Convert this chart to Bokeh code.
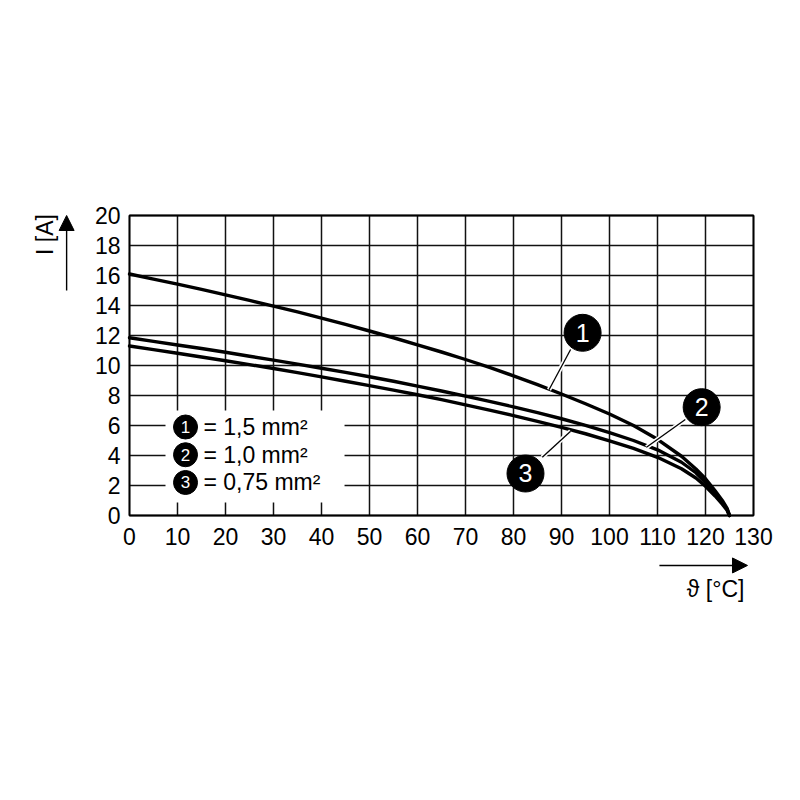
import math
from bokeh.plotting import figure
from bokeh.models import Arrow, NormalHead, ColumnDataSource
from bokeh.core.properties import value
from bokeh.embed import file_html
from bokeh.resources import INLINE

# ---- data ----
temp = [0, 5, 10, 15, 20, 25, 30, 35, 40, 45, 50, 55, 60, 65, 70, 75, 80, 85, 90, 95,
        100, 105, 110, 115, 118, 120, 122, 123.5, 124.5, 125]
i_15 = [16.1, 15.76, 15.42, 15.07, 14.71, 14.34, 13.96, 13.57, 13.16, 12.74, 12.3, 11.85,
        11.38, 10.9, 10.4, 9.87, 9.31, 8.72, 8.1, 7.45, 6.77, 6.0, 5.08, 3.95, 3.1, 2.45,
        1.65, 1.0, 0.48, 0.0]
i_10 = [11.85, 11.61, 11.37, 11.13, 10.88, 10.62, 10.36, 10.09, 9.82, 9.54, 9.25, 8.95,
        8.63, 8.3, 7.96, 7.61, 7.24, 6.86, 6.45, 6.01, 5.53, 5.0, 4.38, 3.55, 2.85, 2.2,
        1.45, 0.85, 0.4, 0.0]
i_075 = [11.3, 11.06, 10.82, 10.57, 10.32, 10.06, 9.8, 9.52, 9.24, 8.95, 8.66, 8.36,
         8.05, 7.72, 7.38, 7.03, 6.66, 6.28, 5.88, 5.45, 4.98, 4.47, 3.88, 3.12, 2.5, 1.95,
         1.3, 0.75, 0.35, 0.0]

x_ticks = list(range(0, 131, 10))
y_ticks = list(range(0, 21, 2))
x_min, x_max = 0, 130
y_min, y_max = 0, 20

legend_nums = ["1", "2", "3"]
legend_texts = ["= 1,5 mm²", "= 1,0 mm²", "= 0,75 mm²"]
legend_y = [5.9, 4.05, 2.2]

# callout bubbles: number, bubble centre, leader line start (on curve) and end
callout_nums = ["1", "2", "3"]
callout_x = [94.4, 119.2, 82.5]
callout_y = [12.18, 7.22, 2.8]
leader_x0 = [87.4, 107.7, 91.9]
leader_y0 = [8.38, 4.55, 5.62]
leader_x1 = [91.9, 115.8, 86.0]
leader_y1 = [11.07, 6.4, 3.89]

FONT = "Liberation Sans"

# the frame covers the whole page; 4.8 px per °C, 15 px per A
p = figure(width=800, height=800, x_range=(-26.875, 139.7917), y_range=(-19.0, 34.3333),
           output_backend="svg", toolbar_location=None,
           x_axis_location=None, y_axis_location=None,
           min_border=0, min_border_left=0, min_border_right=0,
           min_border_top=0, min_border_bottom=0)
p.background_fill_color = "white"
p.border_fill_color = "white"
p.outline_line_color = None
p.xgrid.visible = False
p.ygrid.visible = False

# grid
p.segment(x0=x_ticks, y0=[y_min] * len(x_ticks), x1=x_ticks, y1=[y_max] * len(x_ticks),
          line_color="#111111", line_width=1.5)
p.segment(x0=[x_min] * len(y_ticks), y0=y_ticks, x1=[x_max] * len(y_ticks), y1=y_ticks,
          line_color="#111111", line_width=1.5)
# frame
p.quad(left=x_min, right=x_max, bottom=y_min, top=y_max, fill_color=None,
       line_color="black", line_width=1.8)

# tick labels
p.text(x=x_ticks, y=[-1.4] * len(x_ticks), text=[str(t) for t in x_ticks],
       text_font=value(FONT), text_font_size="23px", text_color="black",
       text_align="center", text_baseline="middle")
p.text(x=[-1.875] * len(y_ticks), y=y_ticks, text=[str(t) for t in y_ticks],
       text_font=value(FONT), text_font_size="23px", text_color="black",
       text_align="right", text_baseline="middle")

# white legend box covering the grid
p.quad(left=7.5, right=44.8, bottom=0.87, top=7.0, fill_color="white", line_color=None)

# curves
for ys in (i_15, i_10, i_075):
    p.line(temp, ys, line_color="black", line_width=3.4, line_join="round", line_cap="round")

# legend markers and text
leg = ColumnDataSource(dict(x=[11.67] * 3, y=legend_y, n=legend_nums,
                            tx=[15.4] * 3, t=legend_texts))
p.scatter("x", "y", source=leg, size=24, fill_color="black", line_color="black")
p.text("x", "y", text="n", source=leg, text_color="white", text_font=value(FONT),
       text_font_size="17px", text_align="center", text_baseline="middle")
p.text("tx", "y", text="t", source=leg, text_color="black", text_font=value(FONT),
       text_font_size="23px", text_align="left", text_baseline="middle")

# callouts
co = ColumnDataSource(dict(x=callout_x, y=callout_y, n=callout_nums,
                           x0=leader_x0, y0=leader_y0, x1=leader_x1, y1=leader_y1))
p.segment("x0", "y0", "x1", "y1", source=co, line_color="white", line_width=4.5)
p.segment("x0", "y0", "x1", "y1", source=co, line_color="black", line_width=1.3)
p.scatter("x", "y", source=co, size=37, fill_color="black", line_color="black")
p.text("x", "y", text="n", source=co, text_color="white", text_font=value(FONT),
       text_font_size="25px", text_align="center", text_baseline="middle")

# axis titles and arrows
p.text(x=[-17.7], y=[18.73], text=["I [A]"], angle=math.pi / 2,
       text_font=value(FONT), text_font_size="23px", text_color="black",
       text_align="center", text_baseline="middle")
p.add_layout(Arrow(x_start=-13.1, y_start=15.0, x_end=-13.1, y_end=20.0,
                   line_color="black", line_width=1.4,
                   end=NormalHead(size=15, fill_color="black", line_color="black")))
p.text(x=[128.1], y=[-4.87], text=["ϑ [°C]"],
       text_font=value(FONT), text_font_size="23px", text_color="black",
       text_align="right", text_baseline="middle")
p.add_layout(Arrow(x_start=110.4, y_start=-3.33, x_end=128.75, y_end=-3.33,
                   line_color="black", line_width=1.4,
                   end=NormalHead(size=15, fill_color="black", line_color="black")))

open("out.html", "w").write(file_html(p, INLINE))
